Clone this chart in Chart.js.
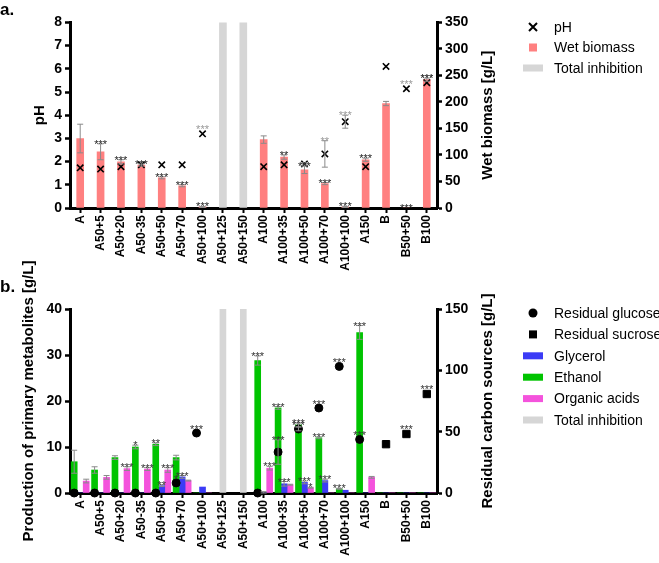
<!DOCTYPE html>
<html><head><meta charset="utf-8">
<script src="https://cdn.jsdelivr.net/npm/chart.js@4/dist/chart.umd.min.js"></script>
<style>
html,body{margin:0;padding:0;background:#fff;}
#wrap{position:relative;width:659px;height:563px;overflow:hidden;background:#fff;}
#ca{position:absolute;left:0;top:0;}
#cb{position:absolute;left:0;top:250px;}
</style></head><body>
<div id="wrap">
<canvas id="ca" width="659" height="272"></canvas>
<canvas id="cb" width="659" height="313"></canvas>
</div>
<script>
// ---------- data ----------
const categories = ['A','A50+5','A50+20','A50-35','A50+50','A50+70','A50+100','A50+125','A50+150','A100','A100+35','A100+50','A100+70','A100+100','A150','B','B50+50','B100'];

// panel a
const pHValues      = [1.73,1.68,1.78,1.86,1.86,1.86,3.2,null,null,1.78,1.86,1.9,2.33,3.72,1.78,6.1,5.14,5.4];
const pHErrors      = [0,0,0,0,0,0,0,0,0,0,0,0.05,0.57,0.28,0,0,0,0];
const pHStars       = ['','','','','','','***','','','','','','**','***','','','***','***'];
const wetBiomass    = [131,106,87,81,57,42,2,null,null,129,96,72,46,2,91,197,0,242];
const wetBiomassErr = [27,15,4,2,2,2,1,0,0,7,4,7,2,1,3,4,0,3];
const wetBiomassStars = ['','***','***','***','***','***','***','','','','**','***','***','***','***','','***','***'];
const inhibitionA   = [null,null,null,null,null,null,null,350,350,null,null,null,null,null,null,null,null,null];

// panel b
const ethanol        = [6.8,5.0,7.7,10.0,10.6,7.7,0,null,null,28.8,18.5,14.8,12.0,0.9,34.9,0,0,0];
const ethanolErr     = [2.5,0.7,0.4,0.4,0.3,0.5,0,0,0,1.0,0.3,0.4,0.2,0.1,1.5,0,0,0];
const ethanolStars   = ['','','','*','**','','','','','***','***','***','***','***','***','','',''];
const glycerol       = [0,0,0,0,1.6,3.5,1.3,null,null,0,2.0,2.3,2.7,0.6,0,0,0,0];
const glycerolErr    = [0,0,0,0,0.2,0.3,0,0,0,0.3,0.5,0.3,0.3,0,0,0,0,0];
const glycerolStars  = ['','','','','**','***','','','','','***','***','***','','','','',''];
const organicAcids   = [2.6,3.4,5.3,5.2,5.0,2.7,0,null,null,5.4,1.8,1.15,0,0,3.4,0,0,0];
const organicAcidsErr= [0.4,0.4,0.4,0.3,0.5,0.1,0,0,0,0.4,0.1,0.1,0,0,0.2,0,0,0];
const organicAcidsStars = ['','','***','***','***','','','','','***','','*','','','','','',''];
const residualGlucose    = [0,0,0,0,0,8.2,48.9,null,null,0,33.4,52.2,69.3,103.2,43.7,null,null,null];
const residualGlucoseErr = [0,0,0,0,0,0,0,0,0,0,10,1.5,0,0,0,0,0,0];
const residualGlucoseStars = ['','','','','','*','***','','','','***','***','***','***','***','','',''];
const residualSucrose    = [null,null,null,null,null,null,null,null,null,null,null,null,null,null,null,39.8,48.1,80.7];
const residualSucroseStars = ['','','','','','','','','','','','','','','','','***','***'];
const inhibitionB   = [null,null,null,null,null,null,null,150,150,null,null,null,null,null,null,null,null,null];

// ---------- styling helpers ----------
const FONT = "'Liberation Sans', Arial, sans-serif";

const decor = {
  id: 'decor',
  afterDatasetsUpdate(chart, args, opts) {
    const a = opts.alignPoints;
    if (!a) return;
    const src = chart.getDatasetMeta(a.from), tgt = chart.getDatasetMeta(a.to);
    src.data.forEach((el, i) => { const t = tgt.data[i]; if (t) el.x = t.x; });
  },
  afterDatasetsDraw(chart) {
    const ctx = chart.ctx;
    ctx.save();
    chart.data.datasets.forEach((ds, di) => {
      const meta = chart.getDatasetMeta(di);
      const ys = chart.scales[meta.yAxisID];
      const isBar = meta.type === 'bar';
      meta.data.forEach((el, i) => {
        const v = ds.data[i];
        if (v === null || v === undefined) return;
        let top = isBar ? el.y : el.y - (ds.pointRadius || 4);
        const e = ds.errorBars ? ds.errorBars[i] : 0;
        if (e) {
          const hi = ys.getPixelForValue(v + e), lo = ys.getPixelForValue(Math.max(v - e, ys.min));
          ctx.strokeStyle = '#8a8a8a'; ctx.lineWidth = 1;
          ctx.beginPath();
          ctx.moveTo(el.x, lo); ctx.lineTo(el.x, hi);
          ctx.moveTo(el.x - 3, hi); ctx.lineTo(el.x + 3, hi);
          ctx.moveTo(el.x - 3, lo); ctx.lineTo(el.x + 3, lo);
          ctx.stroke();
          top = Math.min(top, hi);
        }
        const s = ds.stars ? ds.stars[i] : '';
        if (s) {
          ctx.fillStyle = ds.starColor || '#333';
          ctx.font = '11px ' + FONT;
          ctx.textAlign = 'center'; ctx.textBaseline = 'alphabetic';
          ctx.fillText(s, el.x, top + 4);
        }
      });
    });
    ctx.restore();
  },
  afterDraw(chart, args, opts) {
    const ctx = chart.ctx;
    const r = chart.scales.y1;
    const ca = chart.chartArea;
    if (r && opts.rightTitleOffset) {
      ctx.save();
      ctx.translate(ca.right + opts.rightTitleOffset, (ca.top + ca.bottom) / 2);
      ctx.rotate(-Math.PI / 2);
      ctx.font = 'bold 15px ' + FONT; ctx.fillStyle = '#000';
      ctx.textAlign = 'center'; ctx.textBaseline = 'middle';
      ctx.fillText(r.options.title.text, 0, 0);
      ctx.restore();
    }
    const lg = opts.legend;
    if (lg) {
      ctx.save();
      lg.items.forEach((it, k) => {
        const ds = chart.data.datasets[it.dataset];
        const y = lg.y + k * lg.dy, x = lg.x;
        const col = ds.backgroundColor;
        ctx.fillStyle = col; ctx.strokeStyle = col;
        if (it.marker === 'cross') {
          ctx.lineWidth = 2; ctx.strokeStyle = '#000';
          ctx.beginPath();
          ctx.moveTo(x - 4, y - 4); ctx.lineTo(x + 4, y + 4);
          ctx.moveTo(x + 4, y - 4); ctx.lineTo(x - 4, y + 4);
          ctx.stroke();
        } else if (it.marker === 'square') {
          ctx.fillRect(x - 4, y - 4, 8, 8);
        } else if (it.marker === 'circle') {
          ctx.beginPath(); ctx.arc(x, y, 4.5, 0, Math.PI * 2); ctx.fill();
        } else {
          ctx.fillRect(x - 10, y - 3.5, 20, 7);
        }
        ctx.fillStyle = '#000';
        ctx.font = '14px ' + FONT; ctx.textAlign = 'left'; ctx.textBaseline = 'middle';
        ctx.fillText(ds.label, lg.textX, y + 1);
      });
      ctx.restore();
    }
  }
};

function yAxis(pos, min, max, step, title, fitW, titlePad) {
  return {
    position: pos, min: min, max: max,
    ticks: { stepSize: step, color: '#000', font: { family: FONT, size: 14, weight: 'bold' }, padding: 3 },
    grid: { display: true, drawOnChartArea: false, drawTicks: true, tickLength: 5, tickWidth: 2.5, tickColor: '#000' },
    border: { display: true, color: '#000', width: 3 },
    title: { display: pos === 'left', text: title, color: '#000', font: { family: FONT, size: 15, weight: 'bold' }, padding: { top: titlePad, bottom: 0 } },
    afterFit(s) { s.width = fitW; }
  };
}
function xAxis(h) {
  return {
    offset: true,
    ticks: { autoSkip: false, maxRotation: 90, minRotation: 90, color: '#000', font: { family: FONT, size: 12, weight: 'bold' }, padding: 2 },
    grid: { display: true, offset: false, drawOnChartArea: false, drawTicks: true, tickLength: 5, tickWidth: 2, tickColor: '#000' },
    border: { display: true, color: '#000', width: 3 },
    afterFit(s) { s.height = h; }
  };
}

// ---------- panel a ----------
new Chart(document.getElementById('ca'), {
  type: 'bar',
  data: {
    labels: categories,
    datasets: [
      { type: 'line', label: 'pH', data: pHValues, yAxisID: 'y', showLine: false, pointStyle: 'crossRot', pointRadius: 4.5,
        pointBorderWidth: 1.6, pointBorderColor: '#000', borderColor: '#000', backgroundColor: '#000', clip: false,
        errorBars: pHErrors, stars: pHStars, starColor: '#999' },
      { label: 'Wet biomass', data: wetBiomass, yAxisID: 'y1', backgroundColor: '#ff8080', grouped: false, barThickness: 7,
        errorBars: wetBiomassErr, stars: wetBiomassStars, starColor: '#222' },
      { label: 'Total inhibition', data: inhibitionA, yAxisID: 'y1', backgroundColor: '#d6d6d6', grouped: false, barThickness: 7 }
    ]
  },
  options: {
    responsive: false, animation: false, events: [],
    layout: { padding: { left: 0, right: 154, top: 0, bottom: 0 } },
    scales: {
      x: xAxis(64),
      y: yAxis('left', 0, 8, 1, 'pH', 70, 31),
      y1: yAxis('right', 0, 350, 50, 'Wet biomass [g/L]', 68, 0)
    },
    plugins: {
      legend: { display: false }, tooltip: { enabled: false },
      title: { display: true, text: 'a.', align: 'start', color: '#000', font: { family: FONT, size: 17, weight: 'bold' }, padding: { top: 0, bottom: 2 } },
      decor: { rightTitleOffset: 51, legend: { x: 533, textX: 554, y: 27, dy: 20.5,
        items: [ { dataset: 0, marker: 'cross' }, { dataset: 1, marker: 'square' }, { dataset: 2, marker: 'rect' } ] } }
    }
  },
  plugins: [decor]
});

// ---------- panel b ----------
new Chart(document.getElementById('cb'), {
  type: 'bar',
  data: {
    labels: categories,
    datasets: [
      { type: 'line', label: 'Residual glucose', data: residualGlucose, yAxisID: 'y1', showLine: false, pointStyle: 'circle', pointRadius: 4,
        pointBackgroundColor: '#000', pointBorderColor: '#000', borderColor: '#000', backgroundColor: '#000', clip: false,
        errorBars: residualGlucoseErr, stars: residualGlucoseStars, starColor: '#333' },
      { type: 'line', label: 'Residual sucrose', data: residualSucrose, yAxisID: 'y1', showLine: false, pointStyle: 'rect', pointRadius: 5.2,
        pointBackgroundColor: '#000', pointBorderColor: '#000', borderColor: '#000', backgroundColor: '#000', clip: false,
        stars: residualSucroseStars, starColor: '#333' },
      { label: 'Ethanol', data: ethanol, yAxisID: 'y', backgroundColor: '#00c400', barThickness: 6,
        errorBars: ethanolErr, stars: ethanolStars, starColor: '#333' },
      { label: 'Glycerol', data: glycerol, yAxisID: 'y', backgroundColor: '#3b3bf6', barThickness: 6,
        errorBars: glycerolErr, stars: glycerolStars, starColor: '#333' },
      { label: 'Organic acids', data: organicAcids, yAxisID: 'y', backgroundColor: '#f453dc', barThickness: 6,
        errorBars: organicAcidsErr, stars: organicAcidsStars, starColor: '#333' },
      { label: 'Total inhibition', data: inhibitionB, yAxisID: 'y1', backgroundColor: '#d6d6d6', grouped: false, barThickness: 6 }
    ]
  },
  options: {
    responsive: false, animation: false, events: [],
    layout: { padding: { left: 0, right: 154, top: 0, bottom: 0 } },
    scales: {
      x: xAxis(70),
      y: yAxis('left', 0, 40, 10, 'Production of primary metabolites [g/L]', 70, 20),
      y1: yAxis('right', 0, 150, 50, 'Residual carbon sources [g/L]', 68, 0)
    },
    plugins: {
      legend: { display: false }, tooltip: { enabled: false },
      title: { display: true, text: 'b.', align: 'start', color: '#000', font: { family: FONT, size: 17, weight: 'bold' }, padding: { top: 27, bottom: 11.6 } },
      decor: { alignPoints: { from: 0, to: 2 }, rightTitleOffset: 51,
        legend: { x: 533, textX: 554, y: 63, dy: 21.4,
          items: [ { dataset: 0, marker: 'circle' }, { dataset: 1, marker: 'square' }, { dataset: 3, marker: 'rect' },
                   { dataset: 2, marker: 'rect' }, { dataset: 4, marker: 'rect' }, { dataset: 5, marker: 'rect' } ] } }
    }
  },
  plugins: [decor]
});
</script>
</body></html>
